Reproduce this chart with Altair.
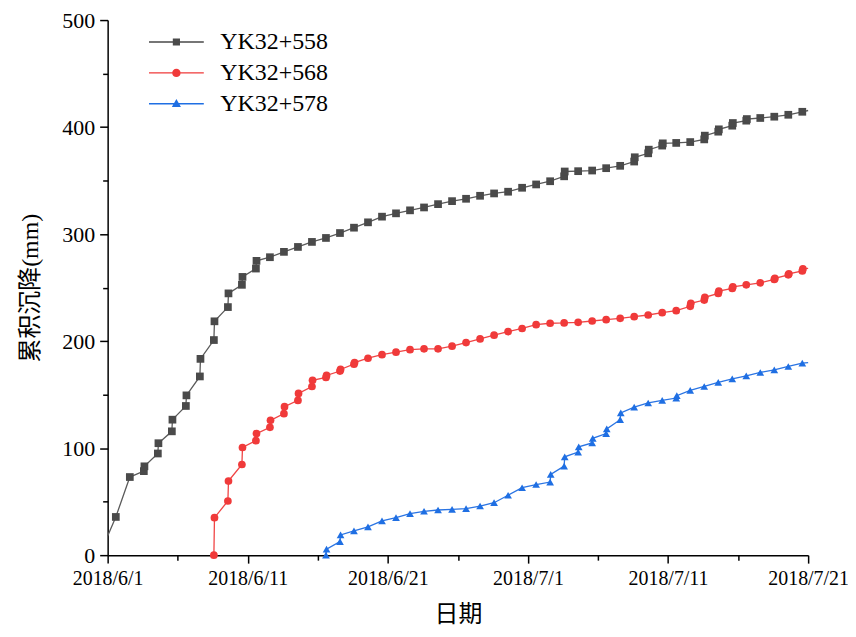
import altair as alt
import pandas as pd

SERIES = ["YK32+558", "YK32+568", "YK32+578"]
COLORS = ["#4a4a4a", "#f03a3a", "#1f6fe3"]
LINE_COLORS = ["#5a5a5a", "#f04545", "#2a74e3"]
SHAPES = ["square", "circle", "triangle-up"]

gray_time = ["06-01T14", "06-02T14", "06-03T14", "06-03T15", "06-04T14", "06-04T15",
             "06-05T14", "06-05T15", "06-06T14", "06-06T15", "06-07T14", "06-07T15",
             "06-08T14", "06-08T15", "06-09T14", "06-09T15", "06-10T14", "06-10T15",
             "06-11T14", "06-11T15", "06-12T14", "06-13T14", "06-14T14", "06-15T14",
             "06-16T14", "06-17T14", "06-18T14", "06-19T14", "06-20T14", "06-21T14",
             "06-22T14", "06-23T14", "06-24T14", "06-25T14", "06-26T14", "06-27T14",
             "06-28T14", "06-29T14", "06-30T14", "07-01T14", "07-02T14", "07-03T14",
             "07-03T15", "07-04T14", "07-05T14", "07-06T14", "07-07T14", "07-08T14",
             "07-08T15", "07-09T14", "07-09T15", "07-10T14", "07-10T15", "07-11T14",
             "07-12T14", "07-13T14", "07-13T15", "07-14T14", "07-14T15", "07-15T14",
             "07-15T15", "07-16T14", "07-16T15", "07-17T14", "07-18T14", "07-19T14",
             "07-20T14"]
gray_val = [35.7, 73, 78.5, 83, 95, 104.6,
            115.7, 126.6, 139.4, 149.3, 167, 183.4,
            201, 218.5, 231.8, 244.6, 252.6, 260,
            267.8, 275, 278.4, 283.4, 288, 292.7,
            296.4, 301, 306, 311, 316.3, 319.4,
            322.2, 324.9, 328, 330.8, 333, 335.8,
            338, 339.6, 343.3, 346.4, 349.4, 354,
            358.5, 358.8, 359.4, 361.6, 363.8, 367.8,
            371.8, 375.5, 378.9, 382.7, 384.8, 385.2,
            386, 388.5, 392, 395.7, 397.9, 401.3,
            403.8, 406, 407.5, 408.5, 409.7, 411.5,
            414.3]

red_time = ["06-08T14", "06-08T15", "06-09T14", "06-09T15", "06-10T14", "06-10T15",
            "06-11T14", "06-11T15", "06-12T14", "06-12T15", "06-13T14", "06-13T15",
            "06-14T14", "06-14T15", "06-15T14", "06-15T15", "06-16T14", "06-16T15",
            "06-17T14", "06-17T15", "06-18T14", "06-18T15", "06-19T14", "06-20T14",
            "06-21T14", "06-22T14", "06-23T14", "06-24T14", "06-25T14", "06-26T14",
            "06-27T14", "06-28T14", "06-29T14", "06-30T14", "07-01T14", "07-02T14",
            "07-03T14", "07-04T14", "07-05T14", "07-06T14", "07-07T14", "07-08T14",
            "07-09T14", "07-10T14", "07-11T14", "07-12T14", "07-12T15", "07-13T14",
            "07-13T15", "07-14T14", "07-14T15", "07-15T14", "07-15T15", "07-16T14",
            "07-17T14", "07-18T14", "07-18T15", "07-19T14", "07-19T15", "07-20T14",
            "07-20T15"]
red_val = [0, 35, 50.6, 69.2, 84.7, 100.6,
           107, 113.6, 119.5, 126, 132.2, 138.7,
           144.6, 151.1, 157.6, 163.4, 166, 167.9,
           172, 173.5, 178.5, 180, 184, 187.3,
           189.7, 192, 192.8, 192.8, 195.3, 198.6,
           202, 205.5, 208.9, 211.8, 215.4, 216.7,
           217, 217.6, 218.8, 220, 221.3, 222.8,
           224.4, 226.6, 228.4, 232.5, 235.3, 238.4,
           240.9, 244.6, 246.7, 249.2, 250.7, 252.6,
           254.5, 257.6, 258.6, 261.9, 262.9, 265.6,
           267.5]

blue_time = ["06-16T14", "06-16T15", "06-17T14", "06-17T15", "06-18T14", "06-19T14",
             "06-20T14", "06-21T14", "06-22T14", "06-23T14", "06-24T14", "06-25T14",
             "06-26T14", "06-27T14", "06-28T14", "06-29T14", "06-30T14", "07-01T14",
             "07-02T14", "07-02T15", "07-03T14", "07-03T15", "07-04T14", "07-04T15",
             "07-05T14", "07-05T15", "07-06T14", "07-06T15", "07-07T14", "07-07T15",
             "07-08T14", "07-09T14", "07-10T14", "07-11T14", "07-11T15", "07-12T14",
             "07-13T14", "07-14T14", "07-15T14", "07-16T14", "07-17T14", "07-18T14",
             "07-19T14", "07-20T14"]
blue_val = [0, 5.6, 12.7, 18.9, 22.6, 26.4,
            32, 35.1, 38.8, 41, 42.2, 42.8,
            43.5, 45.9, 49, 56, 63, 66,
            68.3, 75.4, 83.2, 91.9, 96.3, 101.2,
            104.9, 109.2, 113.6, 118, 126.6, 132.9,
            138.4, 142.2, 144.6, 146.8, 149, 153.9,
            157.6, 161.4, 164.8, 167.6, 170.7, 173.2,
            176.3, 179.4]

# line-only end points (no marker drawn)
line_end_series = ["YK32+558", "YK32+558", "YK32+568", "YK32+578"]
line_end_time = ["06-01T00", "07-21T00", "07-21T00", "07-21T00"]
line_end_val = [18, 415.5, 268, 180]


def frame(name, times, vals):
    return pd.DataFrame({
        "series": name,
        "t": ["2018-" + s + ":00:00" for s in times],
        "v": vals,
    })


pts = pd.concat([
    frame(SERIES[0], gray_time, gray_val),
    frame(SERIES[1], red_time, red_val),
    frame(SERIES[2], blue_time, blue_val),
], ignore_index=True)
ends = pd.DataFrame({
    "series": line_end_series,
    "t": ["2018-" + s + ":00:00" for s in line_end_time],
    "v": line_end_val,
})
lines = pd.concat([pts, ends], ignore_index=True)

FONT = "Liberation Serif"
CJK = "Liberation Serif, Noto Sans CJK SC"

major_x = "round((datum.value - datetime(2018,5,1))/86400000) % 10 == 0"
x_vals = [alt.DateTime(year=2018, month=m, date=d)
          for m, d in [(6, 1), (6, 6), (6, 11), (6, 16), (6, 21), (6, 26),
                       (7, 1), (7, 6), (7, 11), (7, 16), (7, 21)]]

x_enc = alt.X(
    "t:T",
    scale=alt.Scale(domain=[alt.DateTime(year=2018, month=6, date=1),
                            alt.DateTime(year=2018, month=7, date=21)]),
    axis=alt.Axis(
        title="日期", values=x_vals, grid=False,
        labelExpr=f"({major_x}) ? timeFormat(datum.value, '%Y/%-m/%-d') : ''",
        tickSize={"condition": {"test": major_x, "value": 8}, "value": 5},
        labelOverlap=False, labelFlush=False,
        labelFont=FONT, labelFontSize=20, labelPadding=5,
        titleFont=CJK, titleFontSize=24, titleFontWeight="normal", titlePadding=15,
    ),
)
y_enc = alt.Y(
    "v:Q",
    scale=alt.Scale(domain=[0, 500], nice=False),
    axis=alt.Axis(
        title="累积沉降(mm)", values=list(range(0, 501, 50)), grid=False,
        labelExpr="datum.value % 100 == 0 ? datum.label : ''",
        tickSize={"condition": {"test": "datum.value % 100 == 0", "value": 8}, "value": 5},
        labelFont=FONT, labelFontSize=22, labelPadding=5,
        titleFont=CJK, titleFontSize=24, titleFontWeight="normal", titlePadding=19,
    ),
)

base_lines = alt.Chart(lines).encode(x=x_enc, y=y_enc)
base_pts = alt.Chart(pts).encode(x=x_enc, y=y_enc)

layers = []
for name, col in zip(SERIES, LINE_COLORS):
    layers.append(
        base_lines.transform_filter(alt.datum.series == name)
        .mark_line(strokeWidth=1.3, color=col)
        .encode(order="t:T")
    )
for name, col, shp in zip(SERIES, COLORS, SHAPES):
    layers.append(
        base_pts.transform_filter(alt.datum.series == name)
        .mark_point(filled=True, opacity=1, size=60, color=col, shape=shp)
    )

# legend symbols: thin bar (line) with marker, all filled
k = 7.0
hl = 27.5 / k
lw = 0.7 / k
sq = 3.6 / k
ci = 4.2 / k
tr = 4.8 / k
bar = f"M{-hl},{-lw}H{hl}V{lw}H{-hl}Z"
leg_paths = [
    f"{bar}M{-sq},{-sq}H{sq}V{sq}H{-sq}Z",
    f"{bar}M{ci},0A{ci},{ci} 0 1,1 {-ci},0A{ci},{ci} 0 1,1 {ci},0Z",
    f"{bar}M0,{-tr}L{tr*0.95},{tr*0.7}L{-tr*0.95},{tr*0.7}Z",
]

legend_cfg = alt.Legend(
    title=None, orient="none", legendX=57, legendY=10,
    labelFont=FONT, labelFontSize=24, labelOffset=32,
    symbolSize=(2 * k) ** 2, symbolStrokeWidth=0, rowPadding=7,
    labelColor="black",
)
legend_layer = base_pts.transform_filter("false").mark_point(
    filled=True, opacity=1, size=(2 * k) ** 2
).encode(
    color=alt.Color("series:N", scale=alt.Scale(domain=SERIES, range=COLORS), legend=legend_cfg),
    shape=alt.Shape("series:N", scale=alt.Scale(domain=SERIES, range=leg_paths), legend=legend_cfg),
)
layers.append(legend_layer)

chart = alt.layer(*layers).properties(
    width=703, height=537,
    autosize="none",
    background="white",
    padding={"left": 100, "top": 11, "right": 40, "bottom": 72},
).configure_view(stroke=None).configure_axis(
    grid=False, domainColor="black", domainWidth=1.5, tickColor="black", tickWidth=1.5,
    labelColor="black", titleColor="black",
)

chart.save("out.html", embed_options={"renderer": "svg", "actions": False})
